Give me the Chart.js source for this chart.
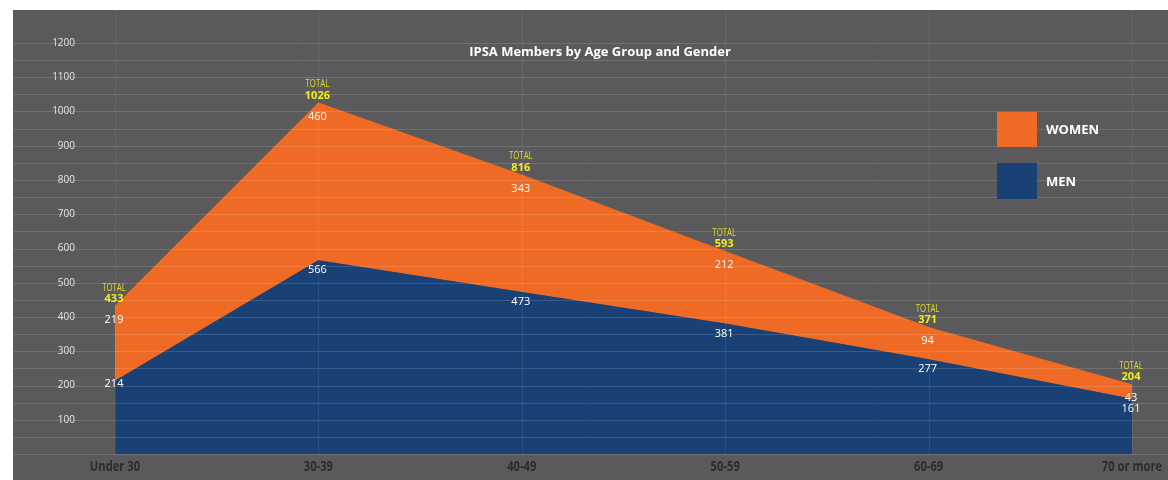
<!DOCTYPE html>
<html>
<head>
<meta charset="utf-8">
<script src="https://cdn.jsdelivr.net/npm/chart.js@4/dist/chart.umd.min.js"></script>
<style>
  html, body { margin: 0; padding: 0; background: #ffffff; }
  #wrap { width: 1168px; height: 480px; }
  canvas { display: block; }
</style>
</head>
<body>
<div id="wrap"><canvas id="c" width="1168" height="480" style="width:1168px;height:480px"></canvas></div>
<script>
// ---- data ----
const categories = ["Under 30", "30-39", "40-49", "50-59", "60-69", "70 or more"];
const men = [214, 566, 473, 381, 277, 161];
const women = [219, 460, 343, 212, 94, 43];
const totals = [433, 1026, 816, 593, 371, 204];
const yTickValues = [100, 200, 300, 400, 500, 600, 700, 800, 900, 1000, 1100, 1200];
const titleText = "IPSA Members by Age Group and Gender";
const seriesNames = { women: "WOMEN", men: "MEN" };
const totalWord = "TOTAL";

// ---- styles ----
const C_BG = "#5a5a5c";
const C_ORANGE = "#ef6a24";
const C_BLUE = "#1a4176";
const C_GRID = "rgba(255,255,255,0.14)";
const C_VGRID = "rgba(255,255,255,0.07)";
const SANS = "'Open Sans', 'Noto Sans', sans-serif";

function condensedText(ctx, text, x, y, sx) {
  ctx.save();
  ctx.translate(x, y);
  ctx.scale(sx, 1);
  ctx.fillText(text, 0, 0);
  ctx.restore();
}

const decor = {
  id: 'decor',
  beforeDraw(chart) {
    const ctx = chart.ctx;
    ctx.save();
    ctx.fillStyle = '#ffffff';
    ctx.fillRect(0, 0, chart.width, chart.height);
    ctx.fillStyle = C_BG;
    ctx.fillRect(13, 10, chart.width - 13, chart.height - 10);
    ctx.restore();
  },
  afterDatasetsDraw(chart) {
    const ctx = chart.ctx;
    const ys = chart.scales.y, xs = chart.scales.x;
    const area = chart.chartArea;
    ctx.save();
    // horizontal grid lines every 50 across the whole panel
    ctx.strokeStyle = C_GRID;
    ctx.lineWidth = 1;
    for (let v = 0; v <= 1200; v += 50) {
      const y = Math.round(ys.getPixelForValue(v)) + 0.5;
      ctx.beginPath();
      ctx.moveTo(13, y);
      ctx.lineTo(chart.width, y);
      ctx.stroke();
    }
    // vertical grid lines at categories
    ctx.strokeStyle = C_VGRID;
    categories.forEach((c, i) => {
      const x = Math.round(xs.getPixelForValue(i)) + 0.5;
      ctx.beginPath();
      ctx.moveTo(x, 10);
      ctx.lineTo(x, area.bottom);
      ctx.stroke();
    });

    // category labels (condensed bold)
    ctx.textAlign = 'center';
    ctx.textBaseline = 'middle';
    ctx.fillStyle = '#2c2c2c';
    ctx.font = "bold 14px " + SANS;
    categories.forEach((c, i) => {
      condensedText(ctx, c, xs.getPixelForValue(i), area.bottom + 13, 0.8);
    });

    // data labels
    const mMeta = chart.getDatasetMeta(0);
    const wMeta = chart.getDatasetMeta(1);
    categories.forEach((c, i) => {
      const pm = mMeta.data[i], pw = wMeta.data[i];
      const x = pw.x - 1;
      ctx.fillStyle = '#dcdc2a';
      ctx.font = "10px " + SANS;
      condensedText(ctx, totalWord, x, pw.y - 18, 0.78);
      ctx.fillStyle = '#f2ec1a';
      ctx.font = "bold 11px " + SANS;
      ctx.fillText(String(totals[i]), x, pw.y - 7);
      ctx.fillStyle = '#ffffff';
      ctx.font = "11px " + SANS;
      ctx.fillText(String(women[i]), x, pw.y + 14);
      ctx.fillText(String(men[i]), x, pm.y + (i === 0 ? 3 : 10));
    });

    // title
    ctx.fillStyle = '#ffffff';
    ctx.font = "bold 13px " + SANS;
    ctx.fillText(titleText, 600, 52);

    // legend
    ctx.fillStyle = C_ORANGE;
    ctx.fillRect(997, 112, 40, 35);
    ctx.fillStyle = C_BLUE;
    ctx.fillRect(997, 163, 40, 36);
    ctx.fillStyle = '#ffffff';
    ctx.textAlign = 'left';
    ctx.font = "bold 13px " + SANS;
    ctx.fillText(seriesNames.women, 1046, 130);
    ctx.fillText(seriesNames.men, 1046, 182);
    ctx.restore();
  }
};

new Chart(document.getElementById('c'), {
  type: 'line',
  data: {
    labels: categories,
    datasets: [
      {
        label: seriesNames.men,
        data: men,
        backgroundColor: C_BLUE,
        borderWidth: 0,
        pointRadius: 0,
        fill: 'origin',
        tension: 0
      },
      {
        label: seriesNames.women,
        data: women,
        backgroundColor: C_ORANGE,
        borderWidth: 0,
        pointRadius: 0,
        fill: '-1',
        tension: 0
      }
    ]
  },
  options: {
    responsive: false,
    maintainAspectRatio: false,
    animation: false,
    devicePixelRatio: 1,
    layout: { padding: { top: 43, right: 36, left: 0, bottom: 0 } },
    plugins: {
      legend: { display: false },
      title: { display: false },
      tooltip: { enabled: false }
    },
    scales: {
      x: {
        type: 'category',
        offset: false,
        grid: { display: false, drawTicks: false },
        border: { display: false },
        ticks: { display: false },
        afterFit(scale) { scale.height = 26; scale.paddingLeft = 0; scale.paddingRight = 0; }
      },
      y: {
        stacked: true,
        min: 0,
        max: 1200,
        grid: { display: false, drawTicks: false },
        border: { display: false },
        afterBuildTicks(scale) {
          scale.ticks = yTickValues.map(v => ({ value: v }));
        },
        ticks: {
          color: '#e6e6e6',
          font: { family: SANS, size: 10 },
          padding: 40,
          callback: (v) => String(v)
        },
        afterFit(scale) { scale.width = 115; scale.paddingTop = 0; scale.paddingBottom = 0; }
      }
    }
  },
  plugins: [decor]
});
</script>
</body>
</html>
